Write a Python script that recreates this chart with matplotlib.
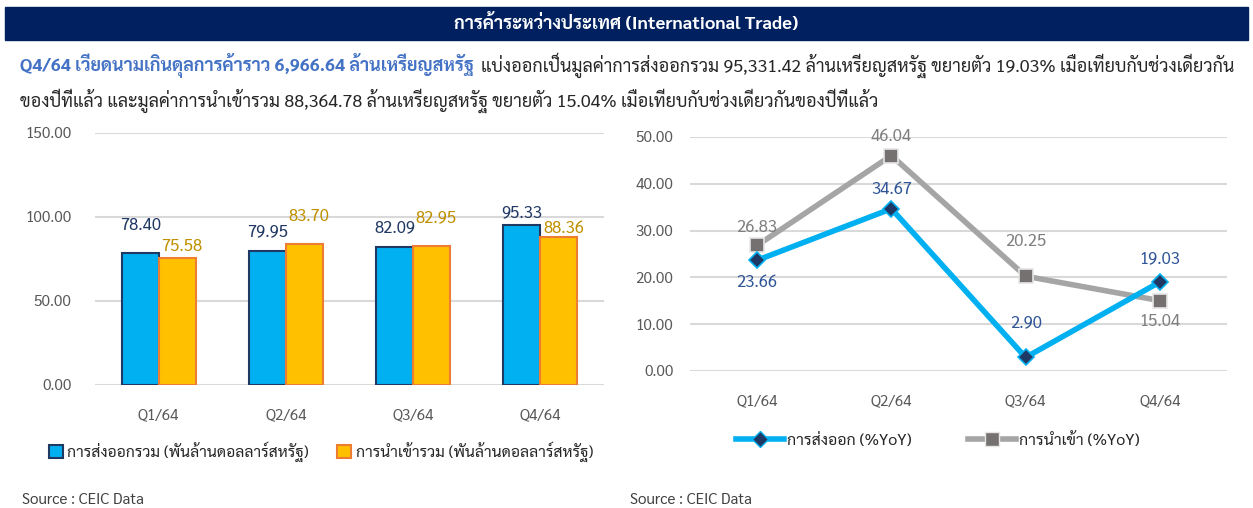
import matplotlib
matplotlib.use("Agg")
import matplotlib.pyplot as plt
import numpy as np
from matplotlib.patches import Rectangle, Patch
from matplotlib.lines import Line2D

plt.rcParams['font.family'] = ['Sarabun', 'DejaVu Sans']

# data
quarters = ["Q1/64", "Q2/64", "Q3/64", "Q4/64"]
exports_bn = [78.40, 79.95, 82.09, 95.33]
imports_bn = [75.58, 83.70, 82.95, 88.36]
exports_yoy = [23.66, 34.67, 2.90, 19.03]
imports_yoy = [26.83, 46.04, 20.25, 15.04]

title = "การค้าระหว่างประเทศ (International Trade)"
lead_blue = "Q4/64 เวียดนามเกินดุลการค้าราว 6,966.64 ล้านเหรียญสหรัฐ"
lead_rest = ("แบ่งออกเป็นมูลค่าการส่งออกรวม 95,331.42 ล้านเหรียญสหรัฐ ขยายตัว 19.03% "
             "เมื่อเทียบกับช่วงเดียวกัน")
line2 = ("ของปีที่แล้ว และมูลค่าการนำเข้ารวม 88,364.78 ล้านเหรียญสหรัฐ ขยายตัว 15.04% "
         "เมื่อเทียบกับช่วงเดียวกันของปีที่แล้ว")
bar_names = ["การส่งออกรวม (พันล้านดอลลาร์สหรัฐ)", "การนำเข้ารวม (พันล้านดอลลาร์สหรัฐ)"]
line_names = ["การส่งออก (%YoY)", "การนำเข้า (%YoY)"]
source = "Source : CEIC Data"

# label offsets (points), hand-placed like the original
exp_bar_off = [20, 14, 14, 8.5]
imp_bar_off = [8, 20, 20, 6]
exp_line_off = [-16, 14, 25, 17]
imp_line_off = [13, 14, 25, -15]

W, H = 1253, 508
fig = plt.figure(figsize=(W / 100, H / 100), dpi=100)

# header band
fig.patches.append(Rectangle((5 / W, 1 - 40 / H), 1243 / W, 33 / H,
                             transform=fig.transFigure, color="#002060", zorder=0))
fig.text(0.5, 1 - 23.5 / H, title, color="white", fontsize=13, fontweight="bold",
         ha="center", va="center")

# intro text
fs_body = 12.9
r = fig.canvas.get_renderer()
t1 = fig.text(20 / W, 1 - 65 / H, lead_blue, color="#4472C4", fontsize=fs_body,
              fontweight="bold", ha="left", va="center")
bb = t1.get_window_extent(renderer=r)
fig.text(bb.x1 / W + 7 / W, 1 - 65 / H, lead_rest, color="#262626", fontsize=fs_body,
         ha="left", va="center")
fig.text(20 / W, 1 - 101 / H, line2, color="#262626", fontsize=fs_body,
         ha="left", va="center")

x = np.arange(len(quarters))
grid_c = "#D9D9D9"
tick_c = "#595959"

# left: bars
ax1 = fig.add_axes([95 / W, 1 - 385 / H, 509 / W, 252 / H])
w = 0.29
ax1.bar(x - w / 2, exports_bn, width=w, color="#00B0F0", edgecolor="#1F3864",
        linewidth=1.5, zorder=3)
ax1.bar(x + w / 2, imports_bn, width=w, color="#FFC000", edgecolor="#ED7D31",
        linewidth=1.5, zorder=3)
for i in range(len(quarters)):
    ax1.annotate("%.2f" % exports_bn[i], (x[i] - w / 2, exports_bn[i]),
                 xytext=(0, exp_bar_off[i]), textcoords="offset points",
                 ha="center", va="center", fontsize=12, color="#203864")
    ax1.annotate("%.2f" % imports_bn[i], (x[i] + w / 2, imports_bn[i]),
                 xytext=(3.5, imp_bar_off[i]), textcoords="offset points",
                 ha="center", va="center", fontsize=12, color="#BF9000")
ax1.set_ylim(0, 150)
ax1.set_yticks([0, 50, 100, 150])
ax1.set_yticklabels(["%.2f" % v for v in [0, 50, 100, 150]])
ax1.set_xlim(-0.5, 3.5)
ax1.set_xticks(x)
ax1.set_xticklabels(quarters)

# right: lines
ax2 = fig.add_axes([690 / W, 1 - 371 / H, 537 / W, 234 / H])
ax2.plot(x, exports_yoy, color="#00B0F0", lw=4, marker="D", ms=8.5,
         mfc="#203864", mec="#00B0F0", mew=1.2, zorder=4)
ax2.plot(x, imports_yoy, color="#A5A5A5", lw=4, marker="s", ms=10,
         mfc="#767171", mec="#E7E6E6", mew=1.2, zorder=3)
for i in range(len(quarters)):
    ax2.annotate("%.2f" % exports_yoy[i], (x[i], exports_yoy[i]),
                 xytext=(0, exp_line_off[i]), textcoords="offset points",
                 ha="center", va="center", fontsize=12, color="#2F5597")
    ax2.annotate("%.2f" % imports_yoy[i], (x[i], imports_yoy[i]),
                 xytext=(0, imp_line_off[i]), textcoords="offset points",
                 ha="center", va="center", fontsize=12, color="#7F7F7F")
ax2.set_ylim(0, 50)
ax2.set_yticks(range(0, 51, 10))
ax2.set_yticklabels(["%.2f" % v for v in range(0, 51, 10)])
ax2.set_xlim(-0.5, 3.5)
ax2.set_xticks(x)
ax2.set_xticklabels(quarters)

for ax in (ax1, ax2):
    for s in ax.spines.values():
        s.set_visible(False)
    ax.grid(axis="y", color=grid_c, lw=1.5, zorder=0)
    ax.set_axisbelow(True)
    ax.tick_params(length=0, labelsize=11, colors=tick_c)
    ax.tick_params(axis="x", pad=17)
    ax.patch.set_alpha(0)
ax1.tick_params(axis="y", pad=17)
ax2.tick_params(axis="y", pad=12)

# legends
h1 = [Patch(facecolor="#00B0F0", edgecolor="#1F3864", lw=1.5),
      Patch(facecolor="#FFC000", edgecolor="#ED7D31", lw=1.5)]
fig.legend(h1, bar_names, loc="center", bbox_to_anchor=(321 / W, 1 - 452 / H),
           ncol=2, frameon=False, fontsize=11.3, handlelength=0.9, handleheight=0.9,
           handletextpad=0.3, columnspacing=1.8, labelcolor="#262626")
h2 = [Line2D([], [], color="#00B0F0", lw=4, marker="D", ms=8.5, mfc="#203864", mec="#00B0F0"),
      Line2D([], [], color="#A5A5A5", lw=4, marker="s", ms=10, mfc="#767171", mec="#E7E6E6")]
fig.legend(h2, line_names, loc="center", bbox_to_anchor=(938 / W, 1 - 440 / H),
           ncol=2, frameon=False, fontsize=11.5, handlelength=3.0,
           handletextpad=0.2, columnspacing=3.5, labelcolor="#262626")

fig.text(22 / W, 1 - 500 / H, source, fontsize=11, color="#404040", va="center")
fig.text(630 / W, 1 - 500 / H, source, fontsize=11, color="#404040", va="center")

fig.savefig("out.png", dpi=100)
